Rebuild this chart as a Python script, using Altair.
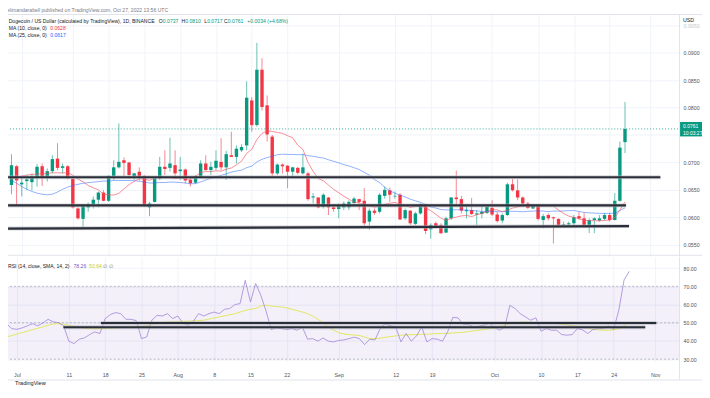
import altair as alt
import numpy as np
import pandas as pd

FONT = "Liberation Sans"
GREEN = "#089981"
RED = "#f23645"
GRID = "#f0f3fa"
BORDER = "#e0e3eb"
TXT = "#131722"
AXT = "#50535e"

dates = pd.date_range("2022-06-29", periods=121, freq="D").strftime("%Y-%m-%dT00:00:00Z").tolist()

open_ = [0.0659, 0.0693, 0.0660, 0.0666, 0.0664, 0.0672, 0.0693, 0.0672, 0.0684, 0.0707,
         0.0690, 0.0693, 0.0670, 0.0616, 0.0597, 0.0618, 0.0624, 0.0632, 0.0645, 0.0630,
         0.0675, 0.0691, 0.0704, 0.0700, 0.0675, 0.0683, 0.0675, 0.0618, 0.0628, 0.0671,
         0.0692, 0.0690, 0.0695, 0.0684, 0.0687, 0.0668, 0.0663, 0.0674, 0.0698, 0.0686,
         0.0690, 0.0701, 0.0691, 0.0713, 0.0710, 0.0722, 0.0731, 0.0813, 0.0768, 0.0869,
         0.0804, 0.0747, 0.0680, 0.0696, 0.0694, 0.0683, 0.0690, 0.0680, 0.0680, 0.0636,
         0.0636, 0.0619, 0.0636, 0.0618, 0.0615, 0.0618, 0.0618, 0.0626, 0.0633, 0.0630,
         0.0592, 0.0612, 0.0610, 0.0639, 0.0649, 0.0638, 0.0641, 0.0598, 0.0612, 0.0588,
         0.0607, 0.0621, 0.0578, 0.0589, 0.0586, 0.0572, 0.0598, 0.0636, 0.0633, 0.0611,
         0.0613, 0.0605, 0.0606, 0.0608, 0.0617, 0.0605, 0.0594, 0.0604, 0.0660, 0.0649,
         0.0636, 0.0625, 0.0616, 0.0622, 0.0595, 0.0604, 0.0600, 0.0597, 0.0586, 0.0587,
         0.0589, 0.0602, 0.0598, 0.0586, 0.0595, 0.0594, 0.0597, 0.0604, 0.0595, 0.0630,
         0.0737]
high = [0.0715, 0.0695, 0.0671, 0.0677, 0.0680, 0.0697, 0.0698, 0.0689, 0.0713, 0.0735,
        0.0698, 0.0695, 0.0671, 0.0618, 0.0624, 0.0627, 0.0638, 0.0647, 0.0649, 0.0677,
        0.0704, 0.0771, 0.0709, 0.0701, 0.0681, 0.0691, 0.0677, 0.0628, 0.0674, 0.0710,
        0.0722, 0.0745, 0.0722, 0.0710, 0.0689, 0.0674, 0.0677, 0.0704, 0.0713, 0.0701,
        0.0722, 0.0744, 0.0721, 0.0756, 0.0731, 0.0733, 0.0848, 0.0819, 0.0918, 0.0890,
        0.0822, 0.0750, 0.0698, 0.0698, 0.0695, 0.0692, 0.0692, 0.0716, 0.0683, 0.0644,
        0.0637, 0.0644, 0.0637, 0.0621, 0.0625, 0.0629, 0.0631, 0.0637, 0.0634, 0.0653,
        0.0616, 0.0616, 0.0644, 0.0656, 0.0654, 0.0647, 0.0644, 0.0616, 0.0613, 0.0610,
        0.0625, 0.0625, 0.0589, 0.0592, 0.0589, 0.0601, 0.0637, 0.0685, 0.0639, 0.0622,
        0.0635, 0.0613, 0.0622, 0.0622, 0.0631, 0.0610, 0.0607, 0.0663, 0.0670, 0.0669,
        0.0638, 0.0628, 0.0624, 0.0624, 0.0606, 0.0607, 0.0601, 0.0598, 0.0592, 0.0592,
        0.0604, 0.0610, 0.0608, 0.0598, 0.0600, 0.0604, 0.0608, 0.0608, 0.0644, 0.0738,
        0.0810]
low = [0.0642, 0.0622, 0.0638, 0.0650, 0.0649, 0.0656, 0.0657, 0.0665, 0.0680, 0.0686,
       0.0680, 0.0669, 0.0616, 0.0596, 0.0580, 0.0610, 0.0616, 0.0618, 0.0629, 0.0628,
       0.0668, 0.0689, 0.0674, 0.0671, 0.0668, 0.0667, 0.0619, 0.0602, 0.0627, 0.0668,
       0.0677, 0.0683, 0.0674, 0.0668, 0.0662, 0.0656, 0.0661, 0.0673, 0.0685, 0.0677,
       0.0686, 0.0686, 0.0668, 0.0710, 0.0698, 0.0719, 0.0722, 0.0756, 0.0765, 0.0795,
       0.0738, 0.0674, 0.0677, 0.0680, 0.0653, 0.0672, 0.0678, 0.0678, 0.0630, 0.0625,
       0.0616, 0.0616, 0.0604, 0.0610, 0.0598, 0.0613, 0.0613, 0.0622, 0.0613, 0.0583,
       0.0577, 0.0604, 0.0607, 0.0634, 0.0628, 0.0634, 0.0595, 0.0595, 0.0586, 0.0586,
       0.0605, 0.0569, 0.0561, 0.0580, 0.0569, 0.0571, 0.0595, 0.0622, 0.0607, 0.0598,
       0.0604, 0.0586, 0.0598, 0.0606, 0.0602, 0.0590, 0.0589, 0.0602, 0.0647, 0.0631,
       0.0622, 0.0615, 0.0615, 0.0594, 0.0580, 0.0594, 0.0552, 0.0583, 0.0582, 0.0584,
       0.0586, 0.0595, 0.0584, 0.0571, 0.0571, 0.0592, 0.0594, 0.0592, 0.0594, 0.0628,
       0.0717]
close = [0.0695, 0.0667, 0.0663, 0.0669, 0.0672, 0.0692, 0.0672, 0.0684, 0.0706, 0.0690,
         0.0693, 0.0672, 0.0618, 0.0598, 0.0621, 0.0624, 0.0632, 0.0645, 0.0630, 0.0675,
         0.0691, 0.0701, 0.0699, 0.0677, 0.0680, 0.0674, 0.0621, 0.0625, 0.0671, 0.0692,
         0.0688, 0.0698, 0.0680, 0.0687, 0.0667, 0.0662, 0.0674, 0.0698, 0.0686, 0.0692,
         0.0703, 0.0691, 0.0715, 0.0710, 0.0725, 0.0728, 0.0818, 0.0768, 0.0869, 0.0801,
         0.0751, 0.0680, 0.0696, 0.0693, 0.0683, 0.0691, 0.0681, 0.0691, 0.0633, 0.0638,
         0.0618, 0.0641, 0.0618, 0.0615, 0.0622, 0.0625, 0.0628, 0.0634, 0.0628, 0.0589,
         0.0612, 0.0608, 0.0641, 0.0650, 0.0641, 0.0639, 0.0596, 0.0613, 0.0589, 0.0607,
         0.0624, 0.0575, 0.0586, 0.0583, 0.0571, 0.0598, 0.0636, 0.0633, 0.0612, 0.0613,
         0.0606, 0.0607, 0.0610, 0.0619, 0.0605, 0.0593, 0.0604, 0.0660, 0.0649, 0.0636,
         0.0625, 0.0617, 0.0622, 0.0597, 0.0602, 0.0598, 0.0598, 0.0586, 0.0587, 0.0589,
         0.0600, 0.0598, 0.0586, 0.0595, 0.0598, 0.0598, 0.0604, 0.0595, 0.0630, 0.0727,
         0.0761]
ma10 = [0.0670, 0.0672, 0.0675, 0.0677, 0.0678, 0.0679, 0.0679, 0.0680, 0.0681, 0.06810,
        0.06808, 0.06813, 0.06768, 0.06697, 0.06646, 0.06578, 0.06538, 0.06499, 0.06423, 0.06408,
        0.06406, 0.06435, 0.06516, 0.06595, 0.06654, 0.06704, 0.06693, 0.06673, 0.06714, 0.06731,
        0.06728, 0.06725, 0.06706, 0.06716, 0.06703, 0.06691, 0.06744, 0.06817, 0.06832, 0.06832,
        0.06847, 0.06840, 0.06875, 0.06898, 0.06956, 0.07022, 0.07166, 0.07236, 0.07419, 0.07528,
        0.07576, 0.07565, 0.07546, 0.07529, 0.07487, 0.07450, 0.07313, 0.07236, 0.07000, 0.06837,
        0.06704, 0.06665, 0.06587, 0.06509, 0.06448, 0.06382, 0.06329, 0.06272, 0.06267, 0.06218,
        0.06212, 0.06179, 0.06202, 0.06237, 0.06256, 0.06270, 0.06238, 0.06217, 0.06178, 0.06196,
        0.06208, 0.06175, 0.06120, 0.06053, 0.05983, 0.05942, 0.05982, 0.06002, 0.06025, 0.06031,
        0.06013, 0.06045, 0.06069, 0.06105, 0.06139, 0.06134, 0.06102, 0.06129, 0.06166, 0.06189,
        0.06208, 0.06218, 0.06230, 0.06208, 0.06205, 0.06210, 0.06204, 0.06130, 0.06068, 0.06021,
        0.05996, 0.05977, 0.05941, 0.05939, 0.05935, 0.05935, 0.05941, 0.05950, 0.05993, 0.06131,
        0.0628]
ma25 = [0.0667, 0.0662, 0.0656, 0.0651, 0.0647, 0.0644, 0.0642, 0.0641, 0.0642, 0.0646,
        0.0651, 0.0655, 0.0658, 0.0660, 0.0662, 0.0663, 0.0664, 0.0665, 0.0666, 0.0666,
        0.0667, 0.0667, 0.0667, 0.0667, 0.06666, 0.06658, 0.06640, 0.06624, 0.06625, 0.06633,
        0.06632, 0.06642, 0.06640, 0.06633, 0.06624, 0.06611, 0.06612, 0.06644, 0.06679, 0.06708,
        0.06739, 0.06763, 0.06791, 0.06823, 0.06843, 0.06858, 0.06904, 0.06932, 0.07009, 0.07057,
        0.07088, 0.07112, 0.07140, 0.07149, 0.07145, 0.07146, 0.07140, 0.07144, 0.07122, 0.07111,
        0.07093, 0.07080, 0.07048, 0.07020, 0.06992, 0.06960, 0.06935, 0.06903, 0.06870, 0.06816,
        0.06769, 0.06685, 0.06634, 0.06547, 0.06483, 0.06438, 0.06404, 0.06371, 0.06330, 0.06299,
        0.06272, 0.06230, 0.06188, 0.06168, 0.06141, 0.06133, 0.06131, 0.06137, 0.06136, 0.06132,
        0.06125, 0.06116, 0.06107, 0.06103, 0.06110, 0.06102, 0.06100, 0.06108, 0.06108, 0.06106,
        0.06100, 0.06108, 0.06112, 0.06115, 0.06113, 0.06103, 0.06112, 0.06112, 0.06114, 0.06121,
        0.06122, 0.06106, 0.06088, 0.06081, 0.06075, 0.06072, 0.06070, 0.06070, 0.06074, 0.06123,
        0.0617]
rsi = [49.5, 46.8, 46.4, 47.2, 48.3, 49.5, 48.3, 49.9, 51.9, 50.5,
       50.1, 48.3, 39.9, 38.6, 41.0, 41.7, 43.5, 45.0, 44.1, 52.3,
       54.5, 55.6, 55.0, 51.9, 51.9, 51.2, 41.3, 42.2, 51.4, 54.1,
       53.7, 55.0, 52.3, 53.7, 49.9, 48.6, 50.8, 55.0, 53.7, 55.0,
       55.9, 55.0, 57.4, 57.8, 60.0, 60.5, 73.3, 61.4, 71.5, 65.1,
       56.5, 46.3, 47.2, 46.8, 46.3, 46.8, 45.9, 47.7, 41.0, 41.3,
       39.9, 41.7, 39.9, 39.5, 40.3, 40.6, 41.3, 42.1, 41.3, 38.0,
       41.0, 40.6, 46.8, 49.5, 48.3, 47.7, 39.5, 44.1, 39.9, 42.8,
       47.7, 39.5, 41.3, 41.0, 39.9, 45.0, 53.0, 52.7, 49.1, 49.1,
       47.7, 48.1, 48.6, 49.7, 47.5, 45.9, 47.5, 59.6, 57.8, 55.0,
       53.2, 51.4, 52.7, 45.4, 46.8, 45.9, 45.9, 43.5, 43.2, 43.5,
       46.8, 46.1, 44.1, 46.3, 46.8, 46.8, 48.3, 46.4, 57.0, 73.5,
       78.26]
rsi_ma = [42.2, 43.0, 43.8, 44.6, 45.4, 46.2, 47.0, 47.8, 48.6, 49.3,
          49.5, 49.2, 48.6, 48.0, 47.5, 47.1, 46.8, 46.7, 46.7, 46.9,
          47.0, 47.2, 47.4, 47.5, 47.7, 47.9, 48.0, 48.3, 49.1, 49.6,
          50.0, 50.5, 50.6, 50.7, 50.8, 50.9, 51.0, 51.2, 51.4, 52.0,
          52.6, 53.2, 53.8, 54.4, 55.0, 55.9, 56.8, 57.4, 57.8, 59.2,
          59.6, 59.2, 58.9, 58.7, 58.1, 57.4, 56.7, 55.9, 55.0, 53.7,
          51.9, 50.1, 47.7, 45.9, 44.6, 43.9, 43.5, 43.3, 43.0, 42.2,
          41.3, 41.3, 41.5, 42.1, 42.4, 42.8, 43.2, 43.3, 43.5, 43.5,
          43.7, 43.7, 43.9, 44.1, 44.1, 44.2, 44.4, 44.6, 44.8, 45.2,
          45.5, 45.9, 46.3, 46.8, 47.2, 47.9, 48.6, 49.5, 50.1, 50.3,
          50.5, 50.3, 50.1, 49.9, 49.9, 49.7, 49.5, 49.2, 48.8, 48.4,
          48.1, 47.7, 47.2, 46.4, 46.1, 45.9, 45.9, 46.1, 46.8, 48.3,
          50.64]

price_ticks = [0.055, 0.060, 0.065, 0.070, 0.080, 0.085, 0.090, 0.095]
hidden_grid = [0.075]
rsi_ticks = [30, 40, 50, 60, 70, 80]
rsi_levels = [30, 50, 70]
tick_dates = [(2022, 7, 1), (2022, 7, 11), (2022, 7, 18), (2022, 7, 25), (2022, 8, 1),
              (2022, 8, 8), (2022, 8, 15), (2022, 8, 22), (2022, 9, 1), (2022, 9, 12),
              (2022, 9, 19), (2022, 10, 1), (2022, 10, 10), (2022, 10, 17), (2022, 10, 24),
              (2022, 11, 1)]

support = pd.DataFrame({
    "line": ["top", "top", "mid", "mid", "low", "low"],
    "date": ["2022-06-28T08:00:00Z", "2022-11-02T22:00:00Z",
             "2022-06-28T08:00:00Z", "2022-10-27T05:00:00Z",
             "2022-06-28T08:00:00Z", "2022-10-27T19:00:00Z"],
    "price": [0.06729, 0.06729, 0.06215, 0.06215, 0.05793, 0.05838],
})
rsi_trend = pd.DataFrame({
    "line": ["a", "a", "b", "b"],
    "date": ["2022-07-17T04:00:00Z", "2022-11-01T05:00:00Z",
             "2022-07-09T23:00:00Z", "2022-10-30T02:00:00Z"],
    "value": [49.9, 49.9, 47.6, 47.6],
})

df = pd.DataFrame({"date": dates, "open": open_, "high": high, "low": low, "close": close,
                   "ma10": ma10, "ma25": ma25, "rsi": rsi, "rsi_ma": rsi_ma})
df["dir"] = np.where(df["close"] >= df["open"], "up", "down")

W, H1, H2 = 679, 242, 105
one = pd.DataFrame({"k": [0]})

xs = alt.Scale(type="utc", domain=[alt.DateTime(year=2022, month=6, date=28, hours=3, utc=True),
                                   alt.DateTime(year=2022, month=11, date=5, hours=14, minutes=24, utc=True)])
ps = alt.Scale(domain=[0.052964, 0.096964], zero=False, nice=False)
rs = alt.Scale(domain=[28.74, 86.18], zero=False, nice=False)
cs = alt.Scale(domain=["up", "down"], range=[GREEN, RED])
tick_values = [alt.DateTime(year=y, month=m, date=d, utc=True) for (y, m, d) in tick_dates]

x_axis_top = alt.Axis(values=tick_values, labels=False, ticks=False, domain=False, grid=True,
                      gridColor=GRID, title=None)
y_axis_price = alt.Axis(orient="right", values=price_ticks, format=".4f", labelFont=FONT,
                        labelFontSize=5.3, labelPadding=4, ticks=False, domain=True,
                        domainColor=BORDER, grid=True, gridColor=GRID, title=None,
                        labelOverlap=False,
                        labelColor={"condition": {"test": "datum.value > 0.094", "value": "#c3c6cd"},
                                    "value": AXT})
x_axis_bot = alt.Axis(values=tick_values,
                      labelExpr="utcFormat(datum.value, '%d') == '01' ? utcFormat(datum.value, '%b') : utcFormat(datum.value, '%-d')",
                      labelFont=FONT, labelFontSize=5.3, labelColor=AXT, labelPadding=11,
                      ticks=False, domain=False, grid=True, gridColor=GRID, title=None,
                      labelOverlap=False)
y_axis_rsi = alt.Axis(orient="right", values=rsi_ticks, format=".2f", labelFont=FONT,
                      labelFontSize=5.3, labelColor=AXT, labelPadding=4, ticks=False,
                      domain=True, domainColor=BORDER, grid=True, gridColor=GRID, title=None,
                      labelOverlap=False)


def txt(s, x, y, color=TXT, size=5.1, weight="normal", align="left"):
    return alt.Chart(one).mark_text(text=s, align=align, baseline="middle", fontSize=size,
                                    font=FONT, fontWeight=weight, color=color).encode(
        x=alt.value(x), y=alt.value(y))


def box(x, x2, y, y2, color, opacity=1.0):
    return alt.Chart(one).mark_rect(color=color, opacity=opacity).encode(
        x=alt.value(x), x2=alt.value(x2), y=alt.value(y), y2=alt.value(y2))


def xt():
    return alt.X("date:T", scale=xs, axis=x_axis_top)


def yp(field):
    return alt.Y(field, scale=ps, axis=y_axis_price)


def xb():
    return alt.X("date:T", scale=xs, axis=x_axis_bot)


def yr(field):
    return alt.Y(field, scale=rs, axis=y_axis_rsi)


# ---------------- price panel ----------------
base = alt.Chart(df)
extra_grid = alt.Chart(pd.DataFrame({"g": hidden_grid})).mark_rule(color=GRID, strokeWidth=1).encode(
    y=yp("g:Q"), x=alt.value(0), x2=alt.value(W))
wicks = base.mark_rule(strokeWidth=1, opacity=0.6).encode(
    x=xt(), y=yp("low:Q"), y2="high:Q",
    color=alt.Color("dir:N", scale=cs, legend=None))
bodies = base.mark_bar(size=3.4).encode(
    x=xt(), y=yp("open:Q"), y2="close:Q",
    color=alt.Color("dir:N", scale=cs, legend=None))
ma25_line = base.mark_line(color="#2962ff", strokeWidth=1, opacity=0.5).encode(
    x=xt(), y=yp("ma25:Q"))
ma10_line = base.mark_line(color="#f7525f", strokeWidth=1, opacity=0.65).encode(
    x=xt(), y=yp("ma10:Q"))

cur_df = pd.DataFrame({"p": [close[-1]]})
cur_line = alt.Chart(cur_df).mark_rule(color=GREEN, strokeDash=[1, 2], strokeWidth=1, opacity=0.8).encode(
    y=yp("p:Q"), x=alt.value(2), x2=alt.value(W))

sup_halo = alt.Chart(support).mark_line(color="#b2b5be", strokeWidth=4, opacity=0.55).encode(
    x=xt(), y=yp("price:Q"), detail="line:N")
sup_core = alt.Chart(support).mark_line(color="#2a2e39", strokeWidth=2.2).encode(
    x=xt(), y=yp("price:Q"), detail="line:N")

tag = alt.Chart(cur_df).mark_rect(color=GREEN, yOffset=-7, y2Offset=7.5).encode(
    x=alt.value(680), x2=alt.value(707), y=yp("p:Q"), y2="p:Q")
tag_t1 = alt.Chart(cur_df).mark_text(align="left", baseline="middle", dy=-3.2, fontSize=5,
                                     font=FONT, color="white").encode(
    x=alt.value(683), y=yp("p:Q"), text=alt.Text("p:Q", format=".4f"))
tag_t2 = alt.Chart(cur_df).mark_text(text="10:03:27", align="left", baseline="middle", dy=3.6,
                                     fontSize=5, font=FONT, color="white").encode(
    x=alt.value(683), y=yp("p:Q"))

chg = close[-1] - close[-2]
pct = chg / close[-2] * 100
price_texts = [
    txt("elimandarabell published on TradingView.com, Oct 27, 2022 13:56 UTC", 5, -4.5, color="#787b86"),
    txt("Dogecoin / US Dollar (calculated by TradingView), 1D, BINANCE", 6.7, 6),
    txt("O", 157.3, 6), txt(f"{open_[-1]:.4f}", 161.3, 6, color=GREEN),
    txt("H", 180, 6), txt(f"{high[-1]:.4f}", 183.8, 6, color=GREEN),
    txt("L", 202.7, 6), txt(f"{low[-1]:.4f}", 205.7, 6, color=GREEN),
    txt("C", 222.7, 6), txt(f"{close[-1]:.4f}", 226.5, 6, color=GREEN),
    txt(f"+{chg:.4f} (+{pct:.2f}%)", 246, 6, color=GREEN),
    txt("MA (10, close, 0)", 6.7, 13.7), txt(f"{ma10[-1]:.4f}", 48.3, 13.7, color=RED),
    txt("MA (25, close, 0)", 6.7, 20.3), txt(f"{ma25[-1]:.4f}", 48.3, 20.3, color="#2962ff"),
    txt("USD", 683, 5.3, size=5.3),
]
price_boxes = [
    box(0, 710, -14, -12, "#e3e7ef"),
    box(0, 710, -0.5, 0.5, BORDER),
    box(0, 710, 241, 242, BORDER),
]

price = alt.layer(extra_grid, wicks, bodies, ma25_line, ma10_line, cur_line, sup_halo, sup_core,
                  tag, tag_t1, tag_t2, *price_texts, *price_boxes).properties(width=W, height=H1)

# ---------------- RSI panel ----------------
band = alt.Chart(pd.DataFrame({"lo": [rsi_levels[0]], "hi": [rsi_levels[-1]]})).mark_rect(
    color="#7e57c2", opacity=0.09).encode(
    x=alt.value(0), x2=alt.value(W), y=yr("lo:Q"), y2="hi:Q")
levels = alt.Chart(pd.DataFrame({"v": rsi_levels})).mark_rule(
    strokeDash=[2, 2], color="#787b86", strokeWidth=0.8, opacity=0.6).encode(
    y=yr("v:Q"), x=alt.value(0), x2=alt.value(W))
rsi_line = base.mark_line(color="#9c7fd6", strokeWidth=1, opacity=0.75).encode(
    x=xb(), y=yr("rsi:Q"))
rsi_ma_line = base.mark_line(color="#e2e65a", strokeWidth=1, opacity=0.95).encode(
    x=xb(), y=yr("rsi_ma:Q"))
tr_halo = alt.Chart(rsi_trend).mark_line(color="#b2b5be", strokeWidth=4, opacity=0.55).encode(
    x=xb(), y=yr("value:Q"), detail="line:N")
tr_core = alt.Chart(rsi_trend).mark_line(color="#2a2e39", strokeWidth=2).encode(
    x=xb(), y=yr("value:Q"), detail="line:N")

rsi_texts = [
    txt("RSI (14, close, SMA, 14, 2)", 6, 9.7),
    txt(f"{rsi[-1]:.2f}", 71.7, 9.7, color="#7e57c2"),
    txt(f"{rsi_ma[-1]:.2f}", 87.3, 9.7, color="#c5cc2a"),
    txt("\u2205", 101.7, 9.7, color="#787b86"),
    txt("\u2205", 107.3, 9.7, color="#787b86"),
    txt("TradingView", 13, 126.5, size=5.6),
]
rsi_boxes = [
    box(0, 710, 123, 124, BORDER),
    box(679, 680, 105, 123, BORDER),
    box(0, 710, 136, 141, "#dde2eb"),
]

rsi_panel = alt.layer(band, levels, rsi_ma_line, rsi_line, tr_halo, tr_core,
                      *rsi_texts, *rsi_boxes).properties(width=W, height=H2)

chart = alt.vconcat(price, rsi_panel, spacing=1).properties(
    padding={"left": -8, "top": -8, "right": -8, "bottom": -12},
    background="white",
).configure_view(strokeWidth=0)

chart.save("out.html", embed_options={"renderer": "svg", "actions": False})
